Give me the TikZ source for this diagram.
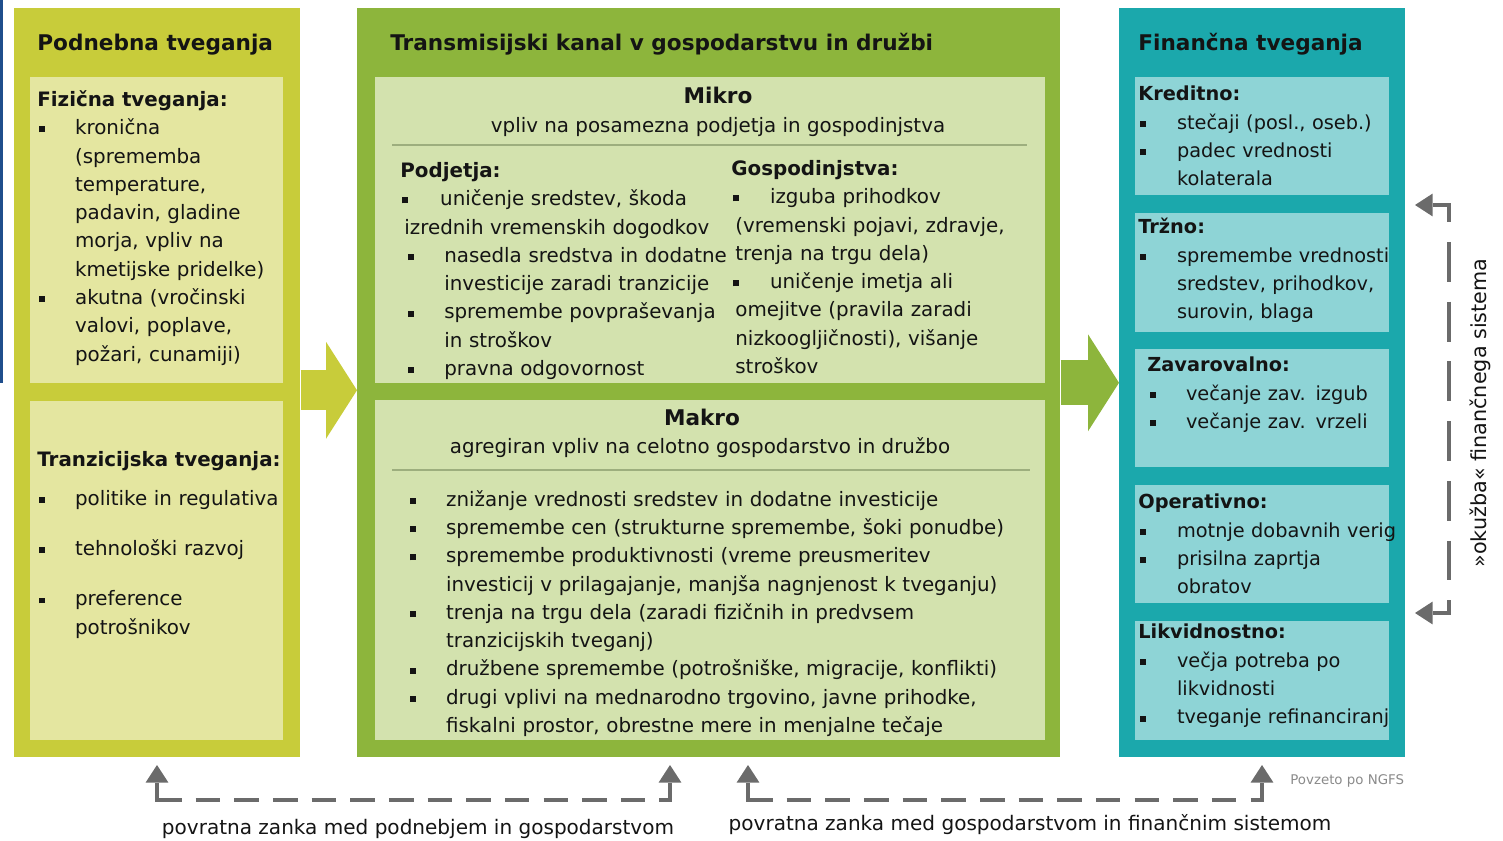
\documentclass[tikz,border=0pt]{standalone}
\usepackage{fontspec}
\setmainfont{DejaVu Sans}
\usepackage{tikz}
\usetikzlibrary{arrows.meta, positioning, calc}

\definecolor{climfg}{HTML}{C8CC3A}
\definecolor{climbg}{HTML}{E4E6A0}
\definecolor{econfg}{HTML}{8DB53C}
\definecolor{econbg}{HTML}{D3E2AE}
\definecolor{finfg}{HTML}{1BA8AC}
\definecolor{finbg}{HTML}{8ED4D6}
\definecolor{rulecolor}{HTML}{9DAE7E}
\definecolor{loopgray}{HTML}{6B6B6B}
\definecolor{notegray}{HTML}{8A8A8A}
\definecolor{edgeblue}{HTML}{1F4E8C}
\definecolor{inktext}{HTML}{141414}

% small square bullet, item with first-line offset and hanging indent
\newcommand{\sqmark}{\rule[1.3pt]{3.4pt}{3.4pt}}
\newcommand{\bpoint}[4][1.1pt]{\par\noindent\hangindent=#3\hangafter=1%
    \makebox[#2][l]{\hspace{#1}\sqmark}\begingroup\let\\\newline#4\endgroup\par}
\newcommand{\tstrut}{\rule{0pt}{12pt}}

\begin{document}
\begin{tikzpicture}[x=0.02cm, y=-0.02cm,
    panel/.style={rectangle, anchor=north west, inner sep=0pt,
        minimum width=5.72cm, minimum height=14.98cm},
    inbox/.style={rectangle, anchor=north west, inner sep=0pt},
    head/.style={anchor=base west, inner sep=0pt, text=inktext,
        font=\fontsize{12.3}{15}\selectfont\bfseries},
    body/.style={anchor=north west, inner sep=0pt, text=inktext, align=left,
        text width=#1, font=\fontsize{11.3}{16.1}\selectfont},
    finbody/.style={body=#1, font=\fontsize{11}{16.1}\selectfont},
    sub/.style={anchor=base, inner sep=0pt, text=inktext,
        font=\fontsize{11.3}{16.1}\selectfont},
    bigarrow/.style={line width=#1,
        -{Triangle[length=0.62cm, width=1.94cm, line width=0pt]}},
    fbarrow/.style={draw=loopgray, line width=2pt, shorten <=-1pt,
        -{Triangle[length=10pt, width=13pt, line width=0pt]}},
    fbdash/.style={draw=loopgray, line width=2pt},
    note/.style={inner sep=0pt, text=inktext, font=\fontsize{11.4}{13}\selectfont},
]
\useasboundingbox (0,0) rectangle (1503,841);

\fill[edgeblue] (0,0) rectangle (3,383);

% Outer panels
\node[panel, fill=climfg] (climate) at (14,8) {};
\node[panel, fill=econfg, minimum width=14.06cm] (transm) at (357,8) {};
\node[panel, fill=finfg] (finance) at (1119,8) {};

% Block arrows between panels
\draw[bigarrow=0.8cm, climfg] ([yshift=-0.15cm]climate.east) -- ([yshift=-0.15cm]transm.west);
\draw[bigarrow=0.9cm, econfg] (transm.east) -- (finance.west);

% Inner boxes
\node[inbox, fill=climbg, minimum width=5.06cm, minimum height=6.12cm] (phys) at (30,77) {};
\node[inbox, fill=climbg, minimum width=5.06cm, minimum height=6.78cm] (trans) at (30,401) {};
\node[inbox, fill=econbg, minimum width=13.4cm, minimum height=6.12cm] (micro) at (375,77) {};
\node[inbox, fill=econbg, minimum width=13.4cm, minimum height=6.8cm] (macro) at (375,400) {};
\node[inbox, fill=finbg, minimum width=5.08cm, minimum height=2.36cm] (credit) at (1135,77) {};
\node[inbox, fill=finbg, minimum width=5.08cm, minimum height=2.38cm] (market) at (1135,213) {};
\node[inbox, fill=finbg, minimum width=5.08cm, minimum height=2.36cm] (insur) at (1135,349) {};
\node[inbox, fill=finbg, minimum width=5.08cm, minimum height=2.36cm] (oper) at (1135,485) {};
\node[inbox, fill=finbg, minimum width=5.08cm, minimum height=2.38cm] (liquid) at (1135,621) {};

% Panel titles
\node[head] (climtitle) at (37,51) {Podnebna tveganja};
\node[head] (transmtitle) at (390,51) {Transmisijski kanal v gospodarstvu in družbi};
\node[head] (fintitle) at (1138,51) {Finančna tveganja};

% Climate risks
\node[body=6cm] (physlist) at (37,85) {\tstrut\textbf{Fizična tveganja:}
    \bpoint{21.5pt}{21.5pt}{kronična\\(sprememba\\temperature,\\padavin, gladine\\morja, vpliv na\\kmetijske pridelke)}
    \bpoint{21.5pt}{21.5pt}{akutna (vročinski\\valovi, poplave,\\požari, cunamiji)}};

\node[body=6cm] (translist) at (37,445) {\tstrut\textbf{Tranzicijska tveganja:}\par\vspace{6pt}
    \bpoint{21.5pt}{21.5pt}{politike in regulativa}\vspace{12.5pt}
    \bpoint{21.5pt}{21.5pt}{tehnološki razvoj}\vspace{12.5pt}
    \bpoint{21.5pt}{21.5pt}{preference\\potrošnikov}};

% Micro
\node[head, anchor=base] (microtitle) at (718,104) {Mikro};
\node[sub] (microsub) at (718,133) {vpliv na posamezna podjetja in gospodinjstva};
\draw[rulecolor, line width=0.6pt] (392,145) -- (1027,145);

\node[body=7cm] (firms) at (400,156) {\tstrut\textbf{Podjetja:}
    \bpoint{22.7pt}{2.3pt}{uničenje sredstev, škoda\\izrednih vremenskih dogodkov}
    \bpoint[4.5pt]{25pt}{25pt}{nasedla sredstva in dodatne\\investicije zaradi tranzicije}
    \bpoint[4.5pt]{25pt}{25pt}{spremembe povpraševanja\\in stroškov}
    \bpoint[4.5pt]{25pt}{25pt}{pravna odgovornost}};

\node[body=6cm] (homes) at (731,154) {\tstrut\textbf{Gospodinjstva:}
    \bpoint{22pt}{2.3pt}{izguba prihodkov\\(vremenski pojavi, zdravje,\\trenja na trgu dela)}
    \bpoint{22pt}{2.3pt}{uničenje imetja ali\\omejitve (pravila zaradi\\nizkoogljičnosti), višanje\\stroškov}};

% Macro
\node[head, anchor=base] (macrotitle) at (702,425) {Makro};
\node[sub] (macrosub) at (700,453) {agregiran vpliv na celotno gospodarstvo in družbo};
\draw[rulecolor, line width=0.6pt] (392,470) -- (1030,470);

\node[body=13cm] (macrolist) at (408,477.5) {%
    \bpoint{21.5pt}{21.5pt}{\tstrut znižanje vrednosti sredstev in dodatne investicije}
    \bpoint{21.5pt}{21.5pt}{spremembe cen (strukturne spremembe, šoki ponudbe)}
    \bpoint{21.5pt}{21.5pt}{spremembe produktivnosti (vreme preusmeritev\\investicij v prilagajanje, manjša nagnjenost k tveganju)}
    \bpoint{21.5pt}{21.5pt}{trenja na trgu dela (zaradi fizičnih in predvsem\\tranzicijskih tveganj)}
    \bpoint{21.5pt}{21.5pt}{družbene spremembe (potrošniške, migracije, konflikti)}
    \bpoint{21.5pt}{21.5pt}{drugi vplivi na mednarodno trgovino, javne prihodke,\\fiskalni prostor, obrestne mere in menjalne tečaje}};

% Financial risks
\node[finbody=5.5cm] (creditlist) at (1138,79.5) {\tstrut\textbf{Kreditno:}
    \bpoint{22pt}{22pt}{stečaji (posl., oseb.)}
    \bpoint{22pt}{22pt}{padec vrednosti\\kolaterala}};
\node[finbody=5.5cm] (marketlist) at (1138,212.5) {\tstrut\textbf{Tržno:}
    \bpoint{22pt}{22pt}{spremembe vrednosti\\sredstev, prihodkov,\\surovin, blaga}};
\node[finbody=5.5cm] (insurlist) at (1147,350.5) {\tstrut\textbf{Zavarovalno:}
    \bpoint[1.7pt]{22pt}{22pt}{večanje zav. izgub}
    \bpoint[1.7pt]{22pt}{22pt}{večanje zav. vrzeli}};
\node[finbody=5.5cm] (operlist) at (1138,487.5) {\tstrut\textbf{Operativno:}
    \bpoint{22pt}{22pt}{motnje dobavnih verig}
    \bpoint{22pt}{22pt}{prisilna zaprtja\\obratov}};
\node[finbody=5.5cm] (liquidlist) at (1138,617.5) {\tstrut\textbf{Likvidnostno:}
    \bpoint{22pt}{22pt}{večja potreba po\\likvidnosti}
    \bpoint{22pt}{22pt}{tveganje refinanciranj}};

% Feedback loops
\coordinate (la) at (157,765);
\coordinate (lb) at (157,800);
\coordinate (lc) at (670,800);
\coordinate (ld) at (670,765);
\draw[fbdash, dash pattern=on 14pt off 8pt] (lb) -- (lc);
\draw[fbarrow] (lb) -- (la);
\draw[fbarrow] (lc) -- (ld);

\coordinate (ma) at (748,765);
\coordinate (mb) at (748,800);
\coordinate (mc) at (1262,800);
\coordinate (md) at (1262,765);
\draw[fbdash, dash pattern=on 14pt off 8pt] (mb) -- (mc);
\draw[fbarrow] (mb) -- (ma);
\draw[fbarrow] (mc) -- (md);

\coordinate (ra) at (1415,205);
\coordinate (rb) at (1449,205);
\coordinate (rc) at (1449,613);
\coordinate (rd) at (1415,613);
\draw[fbdash, dash pattern=on 22.7pt off 11.3pt, dash phase=13pt] (rb) -- (rc);
\draw[fbarrow] (rb) -- (ra);
\draw[fbarrow] (rc) -- (rd);

\node[note, anchor=base] (loopclim) at (418,834) {povratna zanka med podnebjem in gospodarstvom};
\node[note, anchor=base] (loopfin) at (1030,830) {povratna zanka med gospodarstvom in finančnim sistemom};
\node[note, rotate=90, font=\fontsize{11.8}{13}\selectfont] (contagion) at (1480,413) {»okužba« finančnega sistema};
\node[anchor=base west, inner sep=0pt, text=notegray, font=\fontsize{7.6}{9}\selectfont] (source) at (1290,784) {Povzeto po NGFS};

\end{tikzpicture}
\end{document}
